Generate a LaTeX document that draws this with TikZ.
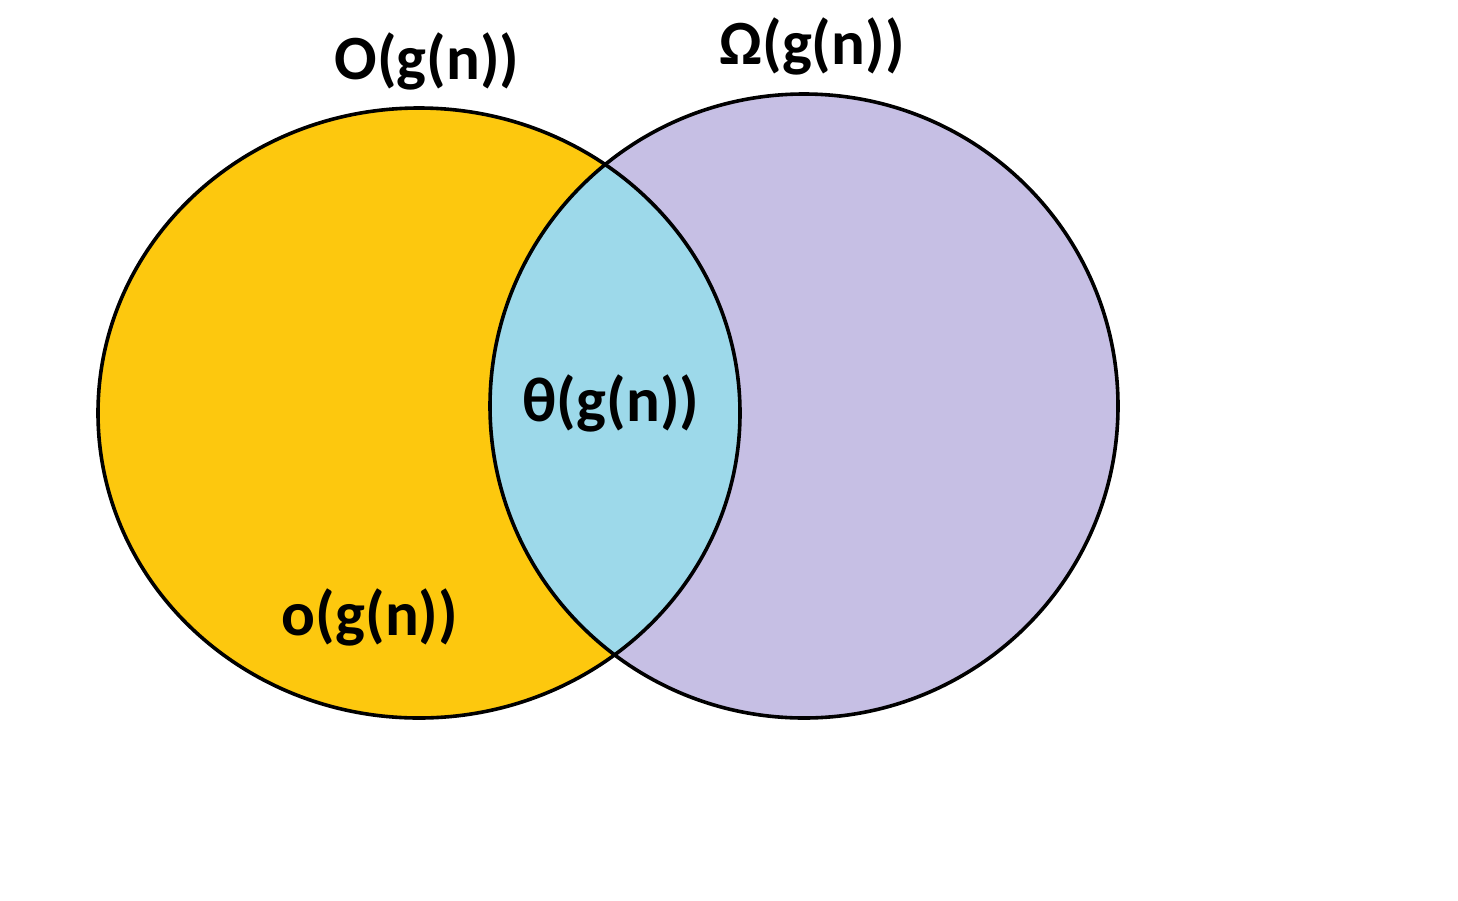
\documentclass[tikz,border=0pt]{standalone}
\usepackage{fontspec}
\setmainfont{Carlito}
\definecolor{setyellow}{HTML}{FDC80E}
\definecolor{setpurple}{HTML}{C6BFE4}
\definecolor{setblue}{HTML}{9DD9EA}
\begin{document}
\begin{tikzpicture}[x=1pt,y=-1pt,
  setline/.style={line width=3.6pt,black},
  lbl/.style={font=\fontsize{63}{66}\selectfont\bfseries,inner sep=0pt,text=black}]
\useasboundingbox (0,0) rectangle (1458,900);
\fill[white] (0,0) rectangle (1458,900);
% sets
\fill[setyellow] (419,413) ellipse [x radius=321,y radius=305];
\fill[setpurple] (804,406) ellipse [x radius=314,y radius=312];
\begin{scope}
  \clip (419,413) ellipse [x radius=321,y radius=305];
  \fill[setblue] (804,406) ellipse [x radius=314,y radius=312];
\end{scope}
\draw[setline] (419,413) ellipse [x radius=321,y radius=305];
\draw[setline] (804,406) ellipse [x radius=314,y radius=312];
% labels
\node[lbl] (bigO) at (427,61) {O(g(n))};
\node[lbl] (bigOmega) at (812,46) {Ω(g(n))};
\node[lbl] (theta) at (611,403) {θ(g(n))};
\node[lbl] (smallo) at (370,617) {o(g(n))};
\end{tikzpicture}
\end{document}
